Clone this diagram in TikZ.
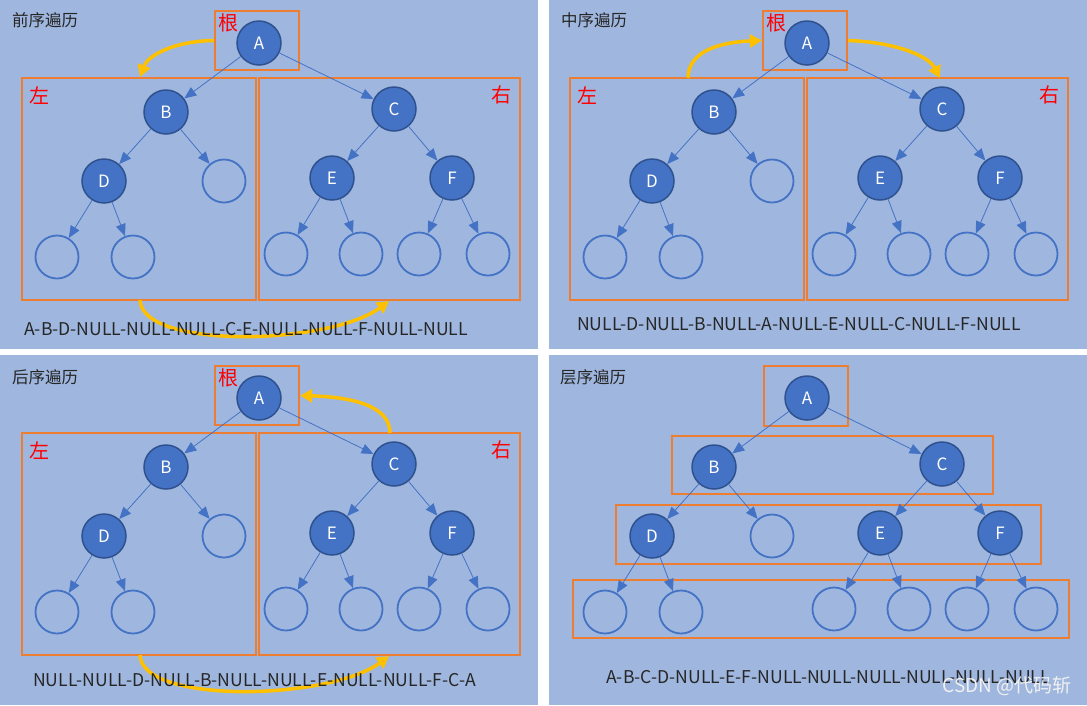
\documentclass[tikz,border=0pt]{standalone}
\usepackage{fontspec}
\setmainfont{Noto Sans CJK SC}
\usetikzlibrary{arrows.meta,fit}
\definecolor{bgblue}{HTML}{9FB7DF}
\definecolor{nodeblue}{HTML}{4472C4}
\definecolor{nodeedge}{HTML}{2F528F}
\definecolor{boxorange}{HTML}{ED7D31}
\definecolor{arrowyellow}{HTML}{FFC000}
\definecolor{labelred}{HTML}{FF0000}
\newcommand\fs[1]{\fontsize{#1}{#1}\selectfont}
\tikzset{
  full/.style={circle, fill=nodeblue, draw=nodeedge, line width=1.5pt, minimum size=44pt, inner sep=0pt, text=white, font=\fs{17}},
  empty/.style={circle, draw=nodeblue, line width=1.8pt, minimum size=43pt, inner sep=0pt},
  edge/.style={draw=nodeblue, line width=0.8pt, -{Triangle[length=12pt,width=10pt]}},
  obox/.style={draw=boxorange, line width=2.2pt, inner sep=0pt},
  yarrow/.style={draw=arrowyellow, line width=3.5pt, -{Triangle[length=12pt,width=13pt]}},
  title/.style={anchor=west, font=\fs{16.5}, text=black!85, inner sep=0pt},
  seq/.style={anchor=west, font=\fs{17.6}, text=black!85, inner sep=0pt},
  redlab/.style={text=labelred, font=\fs{20}, inner sep=0pt}
}
\newcommand\drawtree{%
  \node[full] (A) at (259,43) {A};
  \node[full] (B) at (166,112) {B};
  \node[full] (C) at (394,109) {C};
  \node[full] (D) at (104,181) {D};
  \node[empty] (n1) at (224,181) {};
  \node[full] (E) at (332,178) {E};
  \node[full] (F) at (452,178) {F};
  \node[empty] (n2) at (57,257) {};
  \node[empty] (n3) at (133,257) {};
  \node[empty] (n4) at (286,254) {};
  \node[empty] (n5) at (361,254) {};
  \node[empty] (n6) at (419,254) {};
  \node[empty] (n7) at (488,254) {};
  \draw[edge] (A) -- (B);
  \draw[edge] (A) -- (C);
  \draw[edge] (B) -- (D);
  \draw[edge] (B) -- (n1);
  \draw[edge] (C) -- (E);
  \draw[edge] (C) -- (F);
  \draw[edge] (D) -- (n2);
  \draw[edge] (D) -- (n3);
  \draw[edge] (E) -- (n4);
  \draw[edge] (E) -- (n5);
  \draw[edge] (F) -- (n6);
  \draw[edge] (F) -- (n7);
}
\newcommand\drawsubboxes{%
  \node[obox, fit={(215,11) (299,70)}] (root) {};
  \node[obox, fit={(22,78) (256,300)}] (left) {};
  \node[obox, fit={(259,78) (520,300)}] (right) {};
  \node[redlab] (lroot) at (228,23) {根};
  \node[redlab] (lleft) at (39,96) {左};
  \node[redlab] (lright) at (501,95) {右};
}
\begin{document}
\begin{tikzpicture}[x=1pt,y=-1pt]
\useasboundingbox (0,0) rectangle (1087,705);
\fill[white] (0,0) rectangle (1087,705);
\fill[bgblue] (0,0) rectangle (538,349);
\fill[bgblue] (549,0) rectangle (1087,349);
\fill[bgblue] (0,355) rectangle (538,705);
\fill[bgblue] (549,355) rectangle (1087,705);

% Panel 1: preorder
\begin{scope}[name prefix=p1-]
  \drawsubboxes
  \drawtree
  \coordinate (ya) at (140,77);
  \coordinate (yb1) at (140,300);
  \coordinate (yb2) at (389,301);
  \draw[yarrow] (root.west) .. controls (175,41) and (148,55) .. (ya);
  \draw[yarrow] (yb1) .. controls (142,350) and (330,345) .. (yb2);
  \node[title] (t) at (12,20) {前序遍历};
  \node[seq] (s) at (24,329) {A-B-D-NULL-NULL-NULL-C-E-NULL-NULL-F-NULL-NULL};
\end{scope}

% Panel 2: inorder
\begin{scope}[shift={(548,0)}, name prefix=p2-]
  \drawsubboxes
  \drawtree
  \coordinate (ya1) at (140,78);
  \coordinate (yb2) at (392,78);
  \draw[yarrow] (ya1) .. controls (140,50) and (175,42) .. (root.west);
  \draw[yarrow] (root.east) .. controls (345,42) and (380,55) .. (yb2);
  \node[title] (t) at (13,20) {中序遍历};
  \node[seq] (s) at (29,324) {NULL-D-NULL-B-NULL-A-NULL-E-NULL-C-NULL-F-NULL};
\end{scope}

% Panel 3: postorder
\begin{scope}[shift={(0,355)}, name prefix=p3-]
  \drawsubboxes
  \drawtree
  \coordinate (ya1) at (390,78);
  \coordinate (yb1) at (140,300);
  \coordinate (yb2) at (389,301);
  \draw[yarrow] (ya1) .. controls (390,50) and (350,42) .. (root.east);
  \draw[yarrow] (yb1) .. controls (142,350) and (330,345) .. (yb2);
  \node[title] (t) at (12,22) {后序遍历};
  \node[seq] (s) at (33,325) {NULL-NULL-D-NULL-B-NULL-NULL-E-NULL-NULL-F-C-A};
\end{scope}

% Panel 4: level order
\begin{scope}[shift={(548,355)}, name prefix=p4-]
  \node[obox, fit={(216,11) (300,71)}] (b1) {};
  \node[obox, fit={(124,81) (445,139)}] (b2) {};
  \node[obox, fit={(68,150) (493,209)}] (b3) {};
  \node[obox, fit={(25,225) (521,283)}] (b4) {};
  \drawtree
  \node[title] (t) at (12,22) {层序遍历};
  \node[seq] (s) at (58,322) {A-B-C-D-NULL-E-F-NULL-NULL-NULL-NULL-NULL-NULL};
  \node[anchor=east, font=\fs{19}, text=white!88!gray, inner sep=0pt] (wm) at (524,331) {CSDN @代码斩};
\end{scope}
\end{tikzpicture}
\end{document}
